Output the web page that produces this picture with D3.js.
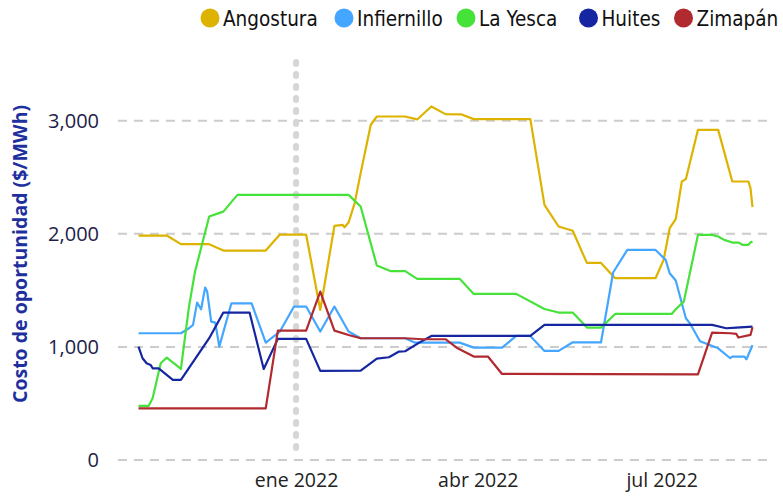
<!DOCTYPE html>
<html>
<head>
<meta charset="utf-8">
<script src="https://cdn.jsdelivr.net/npm/d3@7"></script>
<style>
  body { margin: 0; background: #fff; }
  #chart { width: 783px; height: 497px; }
  .tick text { font-family: "Open Sans", "Noto Sans", sans-serif; }
</style>
</head>
<body>
<div id="chart"></div>
<script>
// series names, legend order
const seriesNames = ["Angostura", "Infiernillo", "La Yesca", "Huites", "Zimapán"]
const seriesColors = ["#ddb300", "#44a6ff", "#46e23a", "#1526a0", "#b02a30"]

// values ($/MWh)
const angostura = [
    ["2021-10-15", 1985], ["2021-10-29", 1985], ["2021-11-05", 1909], ["2021-11-19", 1909],
    ["2021-11-26", 1852], ["2021-12-17", 1852], ["2021-12-24", 1994], ["2022-01-06", 1994],
    ["2022-01-13", 1327], ["2022-01-20", 2071], ["2022-01-24", 2080], ["2022-01-25", 2058],
    ["2022-01-27", 2100], ["2022-01-30", 2271], ["2022-02-02", 2537], ["2022-02-07", 2965],
    ["2022-02-10", 3038], ["2022-02-24", 3038], ["2022-03-02", 3012], ["2022-03-09", 3127],
    ["2022-03-16", 3059], ["2022-03-24", 3056], ["2022-03-30", 3015], ["2022-04-27", 3015],
    ["2022-05-04", 2257], ["2022-05-11", 2065], ["2022-05-18", 2027], ["2022-05-25", 1743],
    ["2022-06-01", 1743], ["2022-06-08", 1608], ["2022-06-28", 1608], ["2022-07-02", 1770],
    ["2022-07-05", 2050], ["2022-07-08", 2130], ["2022-07-11", 2463], ["2022-07-13", 2484],
    ["2022-07-19", 2920], ["2022-07-29", 2920], ["2022-08-05", 2463], ["2022-08-13", 2463],
    ["2022-08-14", 2404], ["2022-08-15", 2236]
]

const infiernillo = [
    ["2021-10-15", 1121], ["2021-11-05", 1121], ["2021-11-09", 1165], ["2021-11-11", 1195],
    ["2021-11-13", 1392], ["2021-11-15", 1333], ["2021-11-17", 1525], ["2021-11-18", 1490],
    ["2021-11-20", 1224], ["2021-11-22", 1215], ["2021-11-24", 1003], ["2021-11-30", 1386],
    ["2021-12-10", 1386], ["2021-12-17", 1038], ["2021-12-24", 1136], ["2021-12-31", 1357],
    ["2022-01-06", 1357], ["2022-01-13", 1136], ["2022-01-20", 1357], ["2022-01-27", 1136],
    ["2022-02-02", 1077], ["2022-02-24", 1077], ["2022-03-01", 1038], ["2022-03-23", 1038],
    ["2022-03-30", 994], ["2022-04-13", 994], ["2022-04-20", 1097], ["2022-04-27", 1097],
    ["2022-05-04", 965], ["2022-05-11", 965], ["2022-05-18", 1041], ["2022-06-01", 1041],
    ["2022-06-07", 1658], ["2022-06-14", 1858], ["2022-06-28", 1858], ["2022-07-03", 1770],
    ["2022-07-05", 1652], ["2022-07-08", 1587], ["2022-07-13", 1254], ["2022-07-15", 1209],
    ["2022-07-20", 1050], ["2022-07-29", 988], ["2022-08-04", 900], ["2022-08-05", 914],
    ["2022-08-11", 914], ["2022-08-12", 891], ["2022-08-15", 1015]
]

const laYesca = [
    ["2021-10-15", 478], ["2021-10-20", 478], ["2021-10-22", 546], ["2021-10-26", 856],
    ["2021-10-29", 905], ["2021-11-05", 805], ["2021-11-09", 1357], ["2021-11-12", 1667],
    ["2021-11-19", 2153], ["2021-11-26", 2197], ["2021-12-03", 2345], ["2022-01-27", 2345],
    ["2022-02-02", 2242], ["2022-02-10", 1720], ["2022-02-17", 1670], ["2022-02-24", 1670],
    ["2022-03-02", 1602], ["2022-03-23", 1602], ["2022-03-30", 1469], ["2022-04-20", 1469],
    ["2022-05-04", 1336], ["2022-05-11", 1304], ["2022-05-18", 1304], ["2022-05-25", 1171],
    ["2022-06-01", 1171], ["2022-06-08", 1292], ["2022-07-06", 1292], ["2022-07-08", 1333],
    ["2022-07-12", 1401], ["2022-07-19", 1991], ["2022-07-26", 1991], ["2022-07-29", 1977],
    ["2022-08-01", 1947], ["2022-08-05", 1923], ["2022-08-08", 1923], ["2022-08-10", 1903],
    ["2022-08-13", 1903], ["2022-08-14", 1923], ["2022-08-15", 1932]
]

const huites = [
    ["2021-10-15", 1003], ["2021-10-17", 900], ["2021-10-19", 856], ["2021-10-21", 841],
    ["2021-10-22", 811], ["2021-10-25", 811], ["2021-11-01", 708], ["2021-11-05", 708],
    ["2021-11-19", 1077], ["2021-11-26", 1304], ["2021-12-09", 1304], ["2021-12-16", 805],
    ["2021-12-23", 1071], ["2022-01-06", 1071], ["2022-01-13", 788], ["2022-02-02", 790],
    ["2022-02-10", 897], ["2022-02-16", 909], ["2022-02-21", 959], ["2022-02-24", 962],
    ["2022-03-03", 1038], ["2022-03-09", 1097], ["2022-04-27", 1097], ["2022-05-04", 1195],
    ["2022-07-26", 1195], ["2022-08-02", 1165], ["2022-08-07", 1170], ["2022-08-15", 1180]
]

const zimapan = [
    ["2021-10-15", 457], ["2021-12-17", 457], ["2021-12-23", 1144], ["2022-01-06", 1144],
    ["2022-01-13", 1490], ["2022-01-20", 1144], ["2022-01-27", 1106], ["2022-02-02", 1077],
    ["2022-02-24", 1077], ["2022-03-05", 1068], ["2022-03-16", 1068], ["2022-03-22", 988],
    ["2022-03-30", 915], ["2022-04-06", 915], ["2022-04-13", 761], ["2022-07-19", 758],
    ["2022-07-26", 1127], ["2022-08-04", 1121], ["2022-08-07", 1115], ["2022-08-08", 1083],
    ["2022-08-14", 1106], ["2022-08-15", 1174]
]

const yTicks = [0, 1000, 2000, 3000]
const xTicks = ["2022-01-01", "2022-04-01", "2022-07-01"]
const xTickLabels = ["ene 2022", "abr 2022", "jul 2022"]
const markerDate = "2022-01-01"
const yTitle = "Costo de oportunidad ($/MWh)"

const parse = d3.timeParse("%Y-%m-%d")
const allSeries = [angostura, infiernillo, laYesca, huites, zimapan].map((s, i) => ({
    name: seriesNames[i],
    color: seriesColors[i],
    values: s.map(d => ({ date: parse(d[0]), value: d[1] }))
}))

const width = 783, height = 497
const svg = d3.select("#chart").append("svg")
    .attr("width", width)
    .attr("height", height)

const x = d3.scaleTime()
    .domain([parse("2021-10-15"), parse("2022-08-15")])
    .range([138.5, 752.5])

const y = d3.scaleLinear()
    .domain([0, 3520])
    .range([460, 62])

const plotLeft = 118, plotRight = 772

// dashed gridlines
svg.append("g")
    .selectAll("line")
    .data(yTicks)
    .enter()
    .append("line")
    .attr("x1", plotLeft)
    .attr("x2", plotRight)
    .attr("y1", d => y(d))
    .attr("y2", d => y(d))
    .attr("stroke", "#cccccc")
    .attr("stroke-width", 2)
    .attr("stroke-dasharray", "9,7")

// dotted marker line
svg.append("line")
    .attr("x1", x(parse(markerDate)))
    .attr("x2", x(parse(markerDate)))
    .attr("y1", y.range()[1])
    .attr("y2", y(0) - 4)
    .attr("stroke", "#d6d6d6")
    .attr("stroke-width", 6)
    .attr("stroke-linecap", "round")
    .attr("stroke-dasharray", "2,10")

// y axis
const yAxis = svg.append("g")
    .attr("transform", `translate(${plotLeft},0)`)
    .call(d3.axisLeft(y).tickValues(yTicks).tickFormat(d3.format(",")).tickSize(0).tickPadding(19))
yAxis.select(".domain").remove()
yAxis.selectAll("text")
    .attr("font-size", 20)
    .attr("fill", "#1c2148")

// x axis
const xAxis = svg.append("g")
    .attr("transform", `translate(0,${y(0)})`)
    .call(d3.axisBottom(x)
        .tickValues(xTicks.map(parse))
        .tickFormat((d, i) => xTickLabels[i])
        .tickSize(0)
        .tickPadding(13))
xAxis.select(".domain").remove()
xAxis.selectAll("text")
    .attr("font-size", 19.5)
    .attr("fill", "#222222")

// axis title
svg.append("text")
    .attr("transform", `translate(19,254) rotate(-90)`)
    .attr("text-anchor", "middle")
    .attr("dominant-baseline", "central")
    .attr("font-family", "'Open Sans', 'Noto Sans', sans-serif")
    .attr("font-weight", "bold")
    .attr("font-size", 19.5)
    .attr("fill", "#1e2f9e")
    .text(yTitle)

// lines
const line = d3.line()
    .x(d => x(d.date))
    .y(d => y(d.value))

svg.append("g")
    .selectAll("path")
    .data(allSeries)
    .enter()
    .append("path")
    .attr("fill", "none")
    .attr("stroke", d => d.color)
    .attr("stroke-width", 2.2)
    .attr("stroke-linejoin", "round")
    .attr("d", d => line(d.values))

// legend at the top right
const legendX = [210, 344, 466, 588.5, 683.5]
const items = svg.append("g")
    .selectAll("g")
    .data(allSeries)
    .enter()
    .append("g")
    .attr("transform", (d, i) => `translate(${legendX[i]},0)`)

items.append("circle")
    .attr("r", 9.5)
    .attr("cy", 18)
    .attr("fill", d => d.color)

items.append("text")
    .attr("x", 13)
    .attr("y", 26)
    .attr("font-family", "'DejaVu Sans Condensed', 'DejaVu Sans', sans-serif")
    .attr("font-size", 20.5)
    .attr("fill", "#111111")
    .text(d => d.name)
</script>
</body>
</html>
